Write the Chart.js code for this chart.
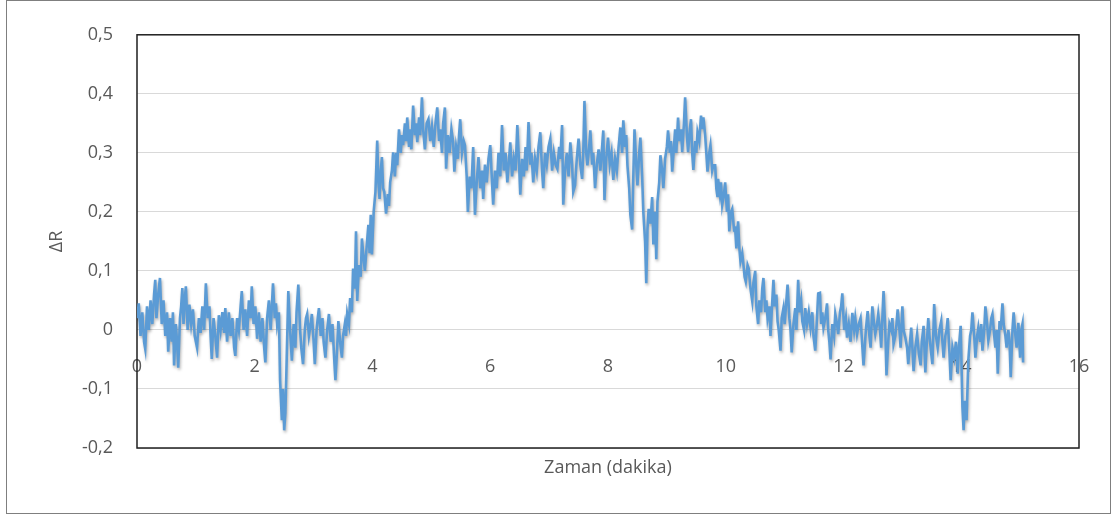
<!DOCTYPE html>
<html>
<head>
<meta charset="utf-8">
<script src="https://cdn.jsdelivr.net/npm/chart.js@4.4.1/dist/chart.umd.min.js"></script>
<style>
  html, body { margin: 0; padding: 0; background: #fff; }
  #kutu { position: relative; width: 1117px; height: 516px; }
  #cerceve { position: absolute; left: 6px; top: 0; width: 1103px; height: 512px; border: 1px solid #7f7f7f; pointer-events: none; }
</style>
</head>
<body>
<div id="kutu">
  <canvas id="grafik" width="1117" height="516"></canvas>
  <div id="cerceve"></div>
</div>
<script>
// [zaman (dakika), ΔR]
const taban1 = [
  [0.00, 0.02], [0.03, 0.045], [0.06, -0.01], [0.09, 0.03], [0.12, -0.02], [0.14, -0.032], [0.17, 0.04], [0.20, 0.0],
  [0.23, 0.05], [0.26, 0.01], [0.29, 0.06], [0.31, 0.085], [0.33, 0.02], [0.36, 0.06], [0.39, 0.088], [0.42, 0.01],
  [0.45, 0.05], [0.48, -0.01], [0.51, 0.03], [0.53, -0.037], [0.56, 0.02], [0.59, -0.02], [0.61, 0.03], [0.63, -0.06],
  [0.66, 0.01], [0.68, -0.02], [0.70, -0.064], [0.73, 0.02], [0.75, 0.04], [0.77, 0.071], [0.79, 0.01], [0.81, 0.05],
  [0.83, 0.074], [0.86, 0.0], [0.89, 0.043], [0.92, 0.01], [0.95, 0.035], [0.98, -0.01], [1.02, -0.03], [1.05, 0.02],
  [1.08, -0.005], [1.11, 0.04], [1.14, 0.0], [1.17, 0.079], [1.20, 0.02], [1.23, 0.04], [1.25, -0.01], [1.27, -0.049],
  [1.30, 0.02], [1.33, -0.01], [1.36, -0.047], [1.39, 0.025], [1.42, 0.0], [1.45, 0.03], [1.48, -0.005], [1.50, 0.037],
  [1.53, -0.02], [1.56, 0.03], [1.59, -0.01], [1.62, 0.02], [1.65, -0.03], [1.67, -0.044], [1.70, 0.02], [1.73, 0.0],
  [1.76, 0.04], [1.78, 0.066], [1.81, 0.0], [1.84, 0.035], [1.87, -0.01], [1.90, 0.05], [1.93, 0.02], [1.95, 0.074],
  [1.98, 0.01], [2.01, 0.04], [2.04, -0.015], [2.07, 0.03], [2.10, -0.02], [2.13, 0.02], [2.16, -0.03], [2.18, -0.055],
  [2.21, 0.02], [2.24, 0.05], [2.27, 0.0], [2.29, 0.04], [2.31, 0.079], [2.34, 0.02], [2.36, 0.045], [2.38, 0.01],
  [2.41, 0.03], [2.43, -0.085], [2.46, -0.153], [2.48, -0.1], [2.50, -0.17], [2.52, -0.14], [2.54, -0.06], [2.57, 0.066],
  [2.60, 0.0], [2.63, -0.052], [2.66, 0.01], [2.69, -0.03], [2.71, 0.03], [2.74, 0.077], [2.77, 0.0], [2.79, -0.03],
  [2.82, -0.058], [2.85, 0.0], [2.87, 0.02], [2.89, 0.027], [2.92, -0.01], [2.95, 0.01], [2.97, 0.027], [3.00, -0.02],
  [3.02, -0.058], [3.05, 0.0], [3.07, 0.02], [3.09, 0.037], [3.12, -0.01], [3.15, 0.02], [3.17, -0.02], [3.20, -0.047],
  [3.23, 0.0], [3.26, 0.027], [3.29, -0.02], [3.32, 0.01], [3.35, -0.05], [3.37, -0.085], [3.40, -0.03], [3.42, 0.015],
  [3.45, -0.02], [3.48, -0.047], [3.50, -0.01], [3.53, 0.01], [3.55, -0.01], [3.57, 0.027], [3.60, 0.01]
];
const yukselis = [
  [3.62, 0.054], [3.65, 0.03], [3.67, 0.104], [3.70, 0.07], [3.72, 0.167], [3.74, 0.049], [3.77, 0.11], [3.80, 0.09],
  [3.82, 0.155], [3.85, 0.12], [3.87, 0.1], [3.90, 0.14], [3.93, 0.178], [3.95, 0.13], [3.97, 0.195], [3.99, 0.128],
  [4.02, 0.2], [4.05, 0.234], [4.08, 0.321], [4.10, 0.25], [4.12, 0.222], [4.14, 0.27], [4.16, 0.293], [4.18, 0.24],
  [4.20, 0.234], [4.23, 0.197], [4.26, 0.23], [4.28, 0.21], [4.30, 0.25], [4.33, 0.27], [4.35, 0.301], [4.38, 0.26],
  [4.40, 0.3], [4.42, 0.279], [4.45, 0.34], [4.48, 0.3]
];
const plato = [
  [4.50, 0.33], [4.52, 0.313], [4.55, 0.35], [4.57, 0.32], [4.59, 0.36], [4.62, 0.31], [4.64, 0.34], [4.66, 0.306],
  [4.69, 0.38], [4.72, 0.33], [4.74, 0.35], [4.76, 0.318], [4.79, 0.36], [4.81, 0.33], [4.84, 0.394], [4.86, 0.34],
  [4.89, 0.306], [4.92, 0.35], [4.95, 0.357], [4.98, 0.32], [5.01, 0.345], [5.04, 0.31], [5.07, 0.35], [5.10, 0.377],
  [5.13, 0.32], [5.15, 0.34], [5.18, 0.3], [5.20, 0.35], [5.23, 0.377], [5.25, 0.273], [5.28, 0.33], [5.31, 0.3],
  [5.34, 0.34], [5.37, 0.318], [5.39, 0.268], [5.42, 0.31], [5.45, 0.29], [5.47, 0.33], [5.49, 0.357], [5.52, 0.3],
  [5.55, 0.32], [5.57, 0.313], [5.60, 0.26], [5.62, 0.2], [5.65, 0.26], [5.68, 0.24], [5.71, 0.31], [5.74, 0.195],
  [5.77, 0.25], [5.80, 0.293], [5.83, 0.24], [5.86, 0.27], [5.88, 0.222], [5.91, 0.28], [5.94, 0.25], [5.97, 0.29],
  [6.00, 0.313], [6.03, 0.25], [6.05, 0.212], [6.08, 0.27], [6.11, 0.24], [6.14, 0.3], [6.17, 0.26], [6.20, 0.347],
  [6.23, 0.27], [6.26, 0.3], [6.29, 0.25], [6.32, 0.29], [6.34, 0.318], [6.37, 0.26], [6.40, 0.29], [6.43, 0.27],
  [6.46, 0.347], [6.49, 0.28], [6.51, 0.229], [6.54, 0.29], [6.57, 0.26], [6.60, 0.31], [6.62, 0.27], [6.65, 0.352],
  [6.68, 0.28], [6.70, 0.3], [6.73, 0.25], [6.76, 0.29], [6.79, 0.27], [6.82, 0.31], [6.85, 0.335], [6.88, 0.27],
  [6.90, 0.24], [6.93, 0.3], [6.96, 0.28], [6.99, 0.31], [7.02, 0.324], [7.05, 0.27], [7.08, 0.3], [7.11, 0.28],
  [7.14, 0.273], [7.17, 0.31], [7.19, 0.29], [7.22, 0.347], [7.24, 0.212], [7.27, 0.27], [7.30, 0.3], [7.33, 0.26],
  [7.36, 0.318], [7.39, 0.28], [7.41, 0.234], [7.44, 0.245], [7.47, 0.29], [7.50, 0.324], [7.53, 0.28], [7.56, 0.256],
  [7.58, 0.3], [7.60, 0.388], [7.63, 0.3], [7.65, 0.279], [7.68, 0.31], [7.70, 0.338], [7.73, 0.28], [7.75, 0.3],
  [7.78, 0.24], [7.81, 0.28], [7.84, 0.306], [7.87, 0.27], [7.90, 0.31], [7.92, 0.338], [7.94, 0.22], [7.97, 0.29],
  [8.00, 0.326], [8.03, 0.28], [8.06, 0.3], [8.09, 0.254], [8.12, 0.29], [8.15, 0.27], [8.18, 0.31], [8.21, 0.343],
  [8.24, 0.3], [8.26, 0.355], [8.29, 0.31], [8.31, 0.33], [8.33, 0.279], [8.36, 0.24], [8.38, 0.195], [8.41, 0.17],
  [8.43, 0.26], [8.45, 0.34], [8.48, 0.28], [8.50, 0.245], [8.53, 0.3], [8.55, 0.326], [8.58, 0.26], [8.60, 0.2],
  [8.63, 0.15], [8.65, 0.079], [8.67, 0.17], [8.69, 0.205], [8.72, 0.18], [8.75, 0.225], [8.77, 0.145], [8.80, 0.2],
  [8.82, 0.12], [8.84, 0.217], [8.87, 0.25], [8.89, 0.296], [8.92, 0.27], [8.94, 0.24], [8.97, 0.29], [9.00, 0.31],
  [9.02, 0.338], [9.05, 0.3], [9.07, 0.32], [9.09, 0.268], [9.12, 0.31], [9.14, 0.34], [9.16, 0.3], [9.19, 0.36],
  [9.21, 0.32], [9.24, 0.34], [9.26, 0.301], [9.29, 0.35], [9.31, 0.394], [9.34, 0.33], [9.36, 0.301], [9.39, 0.34],
  [9.41, 0.357], [9.43, 0.3], [9.45, 0.271], [9.48, 0.32], [9.50, 0.3], [9.52, 0.335], [9.55, 0.32], [9.58, 0.363],
  [9.60, 0.34], [9.62, 0.36], [9.65, 0.33], [9.67, 0.3], [9.69, 0.268], [9.72, 0.3], [9.74, 0.313], [9.77, 0.27],
  [9.79, 0.279]
];
const inis = [
  [9.82, 0.279], [9.84, 0.24], [9.86, 0.225], [9.87, 0.256], [9.90, 0.23], [9.92, 0.25], [9.94, 0.212], [9.97, 0.23],
  [9.99, 0.25], [10.02, 0.2], [10.04, 0.23], [10.06, 0.167], [10.09, 0.2], [10.11, 0.205], [10.14, 0.17], [10.16, 0.172],
  [10.18, 0.138], [10.21, 0.184], [10.23, 0.14], [10.25, 0.116], [10.28, 0.13], [10.30, 0.111], [10.32, 0.09], [10.34, 0.082],
  [10.37, 0.11], [10.39, 0.104], [10.42, 0.07], [10.45, 0.049], [10.47, 0.08], [10.50, 0.1], [10.52, 0.04], [10.55, 0.01],
  [10.57, 0.05], [10.60, 0.03], [10.62, 0.07], [10.64, 0.088], [10.67, 0.03], [10.69, 0.05], [10.71, 0.02], [10.74, 0.04],
  [10.76, -0.01], [10.78, 0.03], [10.81, 0.085], [10.83, 0.04], [10.86, 0.06], [10.88, 0.015]
];
const taban2 = [
  [10.90, 0.0], [10.93, -0.035], [10.95, 0.02], [10.98, 0.037], [11.00, 0.01], [11.03, 0.05], [11.05, 0.077], [11.08, 0.02],
  [11.10, 0.0], [11.12, -0.038], [11.15, 0.01], [11.18, 0.037], [11.20, 0.0], [11.23, 0.085], [11.25, 0.03], [11.28, 0.05],
  [11.30, 0.015], [11.33, 0.0], [11.35, 0.037], [11.38, 0.01], [11.41, 0.03], [11.44, 0.004], [11.47, 0.03], [11.49, -0.01],
  [11.52, -0.035], [11.55, 0.02], [11.57, 0.062], [11.60, 0.063], [11.62, 0.01], [11.64, 0.03], [11.66, 0.004], [11.69, 0.02],
  [11.72, 0.045], [11.74, 0.0], [11.76, -0.02], [11.78, -0.05], [11.81, 0.01], [11.84, -0.01], [11.86, 0.027], [11.89, 0.01],
  [11.91, -0.007], [11.94, 0.03], [11.96, 0.04], [11.98, 0.062], [12.01, 0.0], [12.04, 0.02], [12.06, -0.013], [12.09, 0.01],
  [12.12, -0.02], [12.15, 0.029], [12.18, 0.0], [12.20, 0.02], [12.23, -0.007], [12.26, 0.01], [12.29, 0.02], [12.34, -0.06],
  [12.38, 0.0], [12.41, 0.032], [12.44, -0.01], [12.46, -0.03], [12.49, 0.04], [12.52, 0.01], [12.54, -0.007], [12.57, 0.01],
  [12.59, 0.027], [12.62, 0.0], [12.64, -0.03], [12.66, 0.02], [12.68, 0.066], [12.71, 0.0], [12.73, -0.077], [12.76, -0.02],
  [12.78, 0.01], [12.81, 0.0], [12.83, 0.02], [12.85, -0.024], [12.88, -0.01], [12.90, 0.01], [12.92, 0.035], [12.95, 0.0],
  [12.97, -0.03], [13.00, 0.04], [13.02, 0.0], [13.05, -0.013], [13.08, -0.03], [13.10, -0.058], [13.13, -0.02], [13.15, 0.004],
  [13.17, -0.03], [13.19, -0.07], [13.22, -0.03], [13.25, -0.007], [13.28, -0.04], [13.31, -0.06], [13.33, -0.02], [13.36, 0.007],
  [13.39, -0.072], [13.41, -0.03], [13.44, 0.02], [13.46, -0.01], [13.49, -0.04], [13.51, -0.058], [13.54, 0.044], [13.57, -0.01],
  [13.60, -0.03], [13.63, 0.0], [13.66, 0.015], [13.68, -0.02], [13.70, -0.047], [13.73, -0.01], [13.75, 0.0], [13.77, 0.02],
  [13.80, -0.04], [13.82, -0.085], [13.85, -0.03], [13.88, -0.047], [13.91, -0.02], [13.94, -0.074], [13.96, -0.03], [13.99, 0.007],
  [14.02, -0.13], [14.04, -0.17], [14.06, -0.12], [14.09, -0.153], [14.12, -0.052], [14.15, -0.01], [14.17, 0.0], [14.19, 0.03],
  [14.22, -0.01], [14.24, -0.047], [14.27, -0.01], [14.29, 0.004], [14.32, -0.02], [14.34, 0.01], [14.36, -0.035], [14.39, 0.0],
  [14.41, 0.04], [14.44, 0.01], [14.46, -0.018], [14.49, 0.0], [14.51, 0.02], [14.53, 0.027], [14.56, -0.01], [14.58, -0.03],
  [14.60, 0.0], [14.62, -0.074], [14.65, 0.015], [14.67, 0.0], [14.70, 0.045], [14.72, 0.01], [14.75, -0.01], [14.77, -0.03],
  [14.80, 0.0], [14.82, -0.02], [14.84, -0.08], [14.87, 0.0], [14.89, 0.03], [14.92, -0.01], [14.94, -0.03], [14.97, 0.012],
  [15.00, -0.047], [15.02, 0.0], [15.04, 0.01], [15.05, -0.055]
];

const xTickler = [0, 2, 4, 6, 8, 10, 12, 14, 16];
const yTickler = [-0.2, -0.1, 0, 0.1, 0.2, 0.3, 0.4, 0.5];

const noktalar = taban1.concat(yukselis, plato, inis, taban2).map(p => ({x: p[0], y: p[1]}));

const yaziRengi = '#595959';
const yaziTipi = {family: '"Open Sans", Lato, sans-serif', size: 18};

// çizim alanı çerçevesi + çizginin hafif gölgesi
const cercevePlugin = {
  id: 'cerceve',
  beforeDatasetsDraw(chart) {
    const {ctx, chartArea: a} = chart;
    ctx.save();
    ctx.strokeStyle = '#1f1f1f';
    ctx.lineWidth = 1.5;
    ctx.strokeRect(a.left, a.top, a.right - a.left, a.bottom - a.top);
    ctx.restore();
    ctx.save();
    ctx.shadowColor = 'rgba(0,0,0,0.3)';
    ctx.shadowBlur = 3;
    ctx.shadowOffsetX = 1;
    ctx.shadowOffsetY = 2;
  },
  afterDatasetsDraw(chart) {
    chart.ctx.restore();
  }
};

document.addEventListener('DOMContentLoaded', function() {
  var ctx = document.getElementById('grafik').getContext('2d');
  new Chart(ctx, {
    type: 'line',
    data: {
      datasets: [{
        label: 'ΔR',
        data: noktalar,
        xAxisID: 'x',
        yAxisID: 'y',
        borderColor: '#5b9bd5',
        borderWidth: 2.6,
        pointRadius: 0,
        tension: 0,
        fill: false
      }]
    },
    options: {
      responsive: false,
      animation: false,
      devicePixelRatio: 1,
      layout: {padding: {left: 0, top: 32, right: 38, bottom: 0}},
      plugins: {legend: {display: false}, tooltip: {enabled: false}},
      scales: {
        y: {
          type: 'linear',
          position: 'left',
          min: -0.2,
          max: 0.5,
          afterBuildTicks: s => { s.ticks = yTickler.map(v => ({value: v})); },
          afterFit: s => { s.width = 137; },
          ticks: {
            color: yaziRengi,
            font: yaziTipi,
            padding: 24,
            callback: v => Math.abs(v) < 1e-9 ? '0' : v.toFixed(1).replace('.', ',')
          },
          grid: {color: '#d9d9d9', lineWidth: 1, drawTicks: false},
          border: {display: false},
          title: {display: true, text: 'ΔR', color: yaziRengi, font: yaziTipi, padding: {top: 46, bottom: 0}}
        },
        x: {
          type: 'linear',
          position: {y: 0},
          min: 0,
          max: 16,
          afterBuildTicks: s => { s.ticks = xTickler.map(v => ({value: v})); },
          ticks: {color: yaziRengi, font: yaziTipi, padding: 18, maxRotation: 0},
          grid: {display: false},
          border: {display: false}
        },
        x2: {
          type: 'linear',
          position: 'bottom',
          min: 0,
          max: 16,
          afterFit: s => { s.height = 68; },
          ticks: {display: false},
          grid: {display: false},
          border: {display: false},
          title: {display: true, text: 'Zaman (dakika)', color: yaziRengi, font: yaziTipi, padding: {top: 0, bottom: 37}}
        }
      }
    },
    plugins: [cercevePlugin]
  });
});
</script>
</body>
</html>
